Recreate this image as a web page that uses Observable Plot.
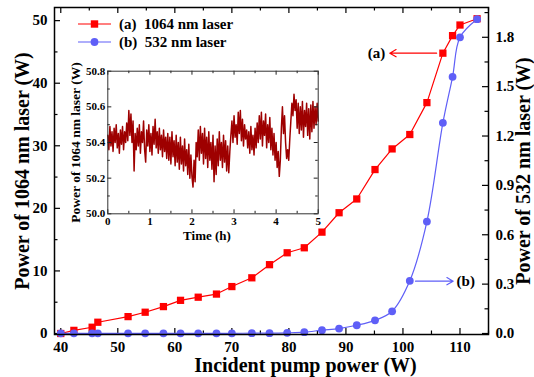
<!DOCTYPE html>
<html><head><meta charset="utf-8">
<script src="https://cdn.jsdelivr.net/npm/d3@7"></script>
<script src="https://cdn.jsdelivr.net/npm/@observablehq/plot@0.6"></script>
<style>
body{margin:0;background:#fff;}
#wrap{position:relative;width:534px;height:377px;overflow:hidden;font-family:"Liberation Serif","Times New Roman",serif;font-weight:bold;color:#000;}
#wrap svg{display:block;}
#inset{position:absolute;left:60px;top:60px;}
#legend{position:absolute;left:76px;top:15px;font-size:15px;}
#legend .row{display:flex;align-items:center;height:18px;white-space:pre;}
#legend svg{margin-right:5px;}
</style></head><body><div id="wrap"><div id="main"></div><div id="inset"></div><div id="legend"></div></div>
<script>
// ---- main chart data ----
const pumpPower = [40, 42.3, 45.5, 46.5, 51.8, 54.8, 58.0, 61.0, 64.1, 67.3, 70.0, 73.5, 76.6, 79.7, 82.7, 85.8, 88.8, 91.9, 95.1, 98.1, 101.2, 104.2, 107.0, 108.7, 110.0, 113.0];
const power1064 = [0, 0.5, 1.0, 1.8, 2.7, 3.4, 4.3, 5.3, 5.8, 6.3, 7.5, 8.9, 11.0, 12.9, 13.7, 16.2, 19.3, 21.5, 26.2, 29.5, 31.8, 36.9, 44.8, 47.6, 49.3, 50.3];
const power532 = [0.001, 0.001, 0.001, 0.001, 0.001, 0.001, 0.001, 0.001, 0.001, 0.001, 0.001, 0.002, 0.002, 0.004, 0.008, 0.02, 0.03, 0.05, 0.08, 0.135, 0.32, 0.68, 1.28, 1.56, 1.80, 1.91];
const seriesNames = ["(a)  1064 nm laser", "(b)  532 nm laser"];
const xTicks = [40, 50, 60, 70, 80, 90, 100, 110];
const xMinor = [45, 55, 65, 75, 85, 95, 105, 115];
const leftTicks = [0, 10, 20, 30, 40, 50];
const leftMinor = [5, 15, 25, 35, 45];
const rightTicks = [0, 0.3, 0.6, 0.9, 1.2, 1.5, 1.8];
const rightMinor = [0.15, 0.45, 0.75, 1.05, 1.35, 1.65, 1.95];
// annotations (data units)
const annotA = {label: "(a)", x1: 105.9, x2: 97.7, y: 44.8, tx: 96.9};
const annotB = {label: "(b)", x1: 102.2, x2: 108.8, y: 0.318, tx: 109.4};

// ---- inset data: 1064 nm output power over 5 h ----
const insetHours = 5;
const insetPower = [
50.44,50.36,50.49,50.38,50.46,50.35,50.48,50.40,50.50,50.37,50.45,50.34,50.47,50.39,50.49,50.36,50.46,50.40,50.51,
50.41,50.58,50.44,50.56,50.40,50.52,
50.24,50.45,
50.36,50.48,50.38,50.50,50.34,50.46,50.40,50.52,50.36,50.29,50.47,50.38,50.50,50.35,50.45,50.33,50.49,50.39,50.53,50.37,50.46,50.34,50.48,50.36,50.44,50.32,50.47,50.35,50.43,
50.31,50.45,50.30,50.43,50.28,50.46,50.32,50.41,50.27,50.44,50.29,50.40,50.25,50.43,50.28,50.38,50.24,50.42,50.27,50.36,50.22,50.39,50.20,50.33,50.21,
50.15,50.30,50.18,50.40,
50.32,50.47,50.30,50.49,50.34,50.45,50.28,50.48,50.31,50.43,50.26,50.46,50.30,50.40,50.25,50.44,50.18,50.38,50.22,50.42,50.27,50.46,50.30,50.40,50.26,50.44,50.29,50.41,50.24,50.38,50.23,50.35,
50.44,50.52,50.40,50.55,50.43,50.50,50.39,50.57,50.45,50.58,50.41,50.53,50.38,50.50,50.42,50.47,50.37,
50.46,50.34,50.49,50.36,50.44,50.33,50.48,50.37,50.51,
50.40,50.55,50.42,50.57,50.38,50.52,50.44,50.56,50.37,50.50,50.40,50.54,50.36,50.48,50.33,50.45,
50.30,50.40,50.26,50.35,50.21,50.30,
50.48,50.60,50.45,50.55,50.40,
50.31,50.36,50.30,50.42,
50.52,50.62,50.55,50.67,50.58,
50.64,50.48,50.62,50.45,50.60,50.47,50.63,50.43,50.58,50.49,50.62,50.44,50.59,50.42,50.61,50.46,50.63,50.48,50.60,50.50,50.62,50.52
];
const insetXTicks = [0, 1, 2, 3, 4, 5];
const insetXMinor = [0.5, 1.5, 2.5, 3.5, 4.5];
const insetYTicks = [50.0, 50.2, 50.4, 50.6, 50.8];
const insetYMinor = [50.1, 50.3, 50.5, 50.7];

const RED = "#ff0000", BLUE = "#5f5ff7", DARKRED = "#9e0000";
const FONT = '"Liberation Serif","Times New Roman",serif';

// ---- main plot ----
const k = 26.3; // left-axis units per right-axis unit
const W = 534, H = 377, mL = 54, mR = 46, mT = 7, mB = 43;
const pw = W - mL - mR, ph = H - mT - mB;
const rows = pumpPower.map((x, i) => ({x, a: power1064[i], b: power532[i] * k}));

function frameTicks(pwid, phgt, xs, ys, len, sw, col) {
  return [
    Plot.tickX(xs, {x: d => d, insetTop: phgt - len, stroke: col, strokeWidth: sw}),
    Plot.tickX(xs, {x: d => d, insetBottom: phgt - len, stroke: col, strokeWidth: sw}),
    Plot.tickY(ys, {y: d => d, insetRight: pwid - len, stroke: col, strokeWidth: sw}),
  ];
}

const main = Plot.plot({
  width: W, height: H, marginLeft: mL, marginRight: mR, marginTop: mT, marginBottom: mB,
  style: {fontFamily: FONT, fontWeight: "bold", fontSize: "15px", background: "transparent", color: "black"},
  x: {domain: [38.9, 115]},
  y: {domain: [-0.16, 52.1]},
  marks: [
    ...frameTicks(pw, ph, xTicks, leftTicks, 6, 1.2, "black"),
    ...frameTicks(pw, ph, xMinor, leftMinor, 3.5, 1.2, "black"),
    Plot.tickY(rightTicks.map(t => t * k), {y: d => d, insetLeft: pw - 6, stroke: "black", strokeWidth: 1.2}),
    Plot.tickY(rightMinor.map(t => t * k), {y: d => d, insetLeft: pw - 3.5, stroke: "black", strokeWidth: 1.2}),
    Plot.axisY({anchor: "left", ticks: leftTicks, tickSize: 0, tickPadding: 7, tickFormat: d => String(d), label: null}),
    Plot.axisY({anchor: "right", ticks: rightTicks.map(t => t * k), tickSize: 0, tickPadding: 7, tickFormat: d => (d / k).toFixed(1), label: null}),
    Plot.axisX({anchor: "bottom", ticks: xTicks, tickSize: 0, tickPadding: 7, tickFormat: d => String(d), label: null}),
    Plot.line(rows, {x: "x", y: "a", stroke: RED, strokeWidth: 1.2}),
    Plot.dot(rows, {x: "x", y: "a", symbol: "square", fill: RED, r: 4.1}),
    Plot.line(rows, {x: "x", y: "b", stroke: BLUE, strokeWidth: 1.2, curve: "catmull-rom"}),
    Plot.dot(rows, {x: "x", y: "b", fill: BLUE, r: 3.9}),
    Plot.arrow([annotA], {x1: "x1", x2: "x2", y1: "y", y2: "y", stroke: RED, strokeWidth: 1.2, headLength: 9}),
    Plot.text([annotA], {x: "tx", y: "y", text: "label", textAnchor: "end", fontSize: 15, fill: "black"}),
    Plot.arrow([annotB], {x1: "x1", x2: "x2", y1: d => d.y * k, y2: d => d.y * k, stroke: BLUE, strokeWidth: 1.2, headLength: 9}),
    Plot.text([annotB], {x: "tx", y: d => d.y * k, text: "label", textAnchor: "start", fontSize: 15, fill: "black"}),
    Plot.text(["Power of 1064 nm laser (W)"], {text: d => d, frameAnchor: "left", textAnchor: "middle", lineAnchor: "middle", dx: -32, rotate: -90, fontSize: 20, fill: "black"}),
    Plot.text(["Power of 532 nm laser (W)"], {text: d => d, frameAnchor: "right", textAnchor: "middle", lineAnchor: "middle", dx: 35, rotate: -90, fontSize: 20, fill: "black"}),
    Plot.text(["Incident pump power (W)"], {text: d => d, frameAnchor: "bottom", textAnchor: "middle", lineAnchor: "middle", dx: 34, dy: 31, fontSize: 20, fill: "black"}),
    Plot.frame({stroke: "black", strokeWidth: 1.5}),
  ]
});
document.getElementById("main").appendChild(main);

// ---- inset plot ----
const iW = 263, iH = 185, iL = 47.3, iR = 5.3, iT = 10.7, iB = 31.7;
const ipw = iW - iL - iR, iph = iH - iT - iB;
const insetRows = insetPower.map((p, i) => ({t: i * insetHours / (insetPower.length - 1), p}));
const inset = Plot.plot({
  width: iW, height: iH, marginLeft: iL, marginRight: iR, marginTop: iT, marginBottom: iB,
  style: {fontFamily: FONT, fontWeight: "bold", fontSize: "11px", background: "transparent", color: "black"},
  x: {domain: [0, 5]},
  y: {domain: [50.0, 50.8]},
  marks: [
    Plot.frame({fill: "white"}),
    Plot.line(insetRows, {x: "t", y: "p", stroke: DARKRED, strokeWidth: 1.5}),
    ...frameTicks(ipw, iph, insetXTicks, insetYTicks, 4, 1, "#222"),
    ...frameTicks(ipw, iph, insetXMinor, insetYMinor, 2.5, 1, "#222"),
    Plot.tickY(insetYTicks, {y: d => d, insetLeft: ipw - 4, stroke: "#222", strokeWidth: 1}),
    Plot.tickY(insetYMinor, {y: d => d, insetLeft: ipw - 2.5, stroke: "#222", strokeWidth: 1}),
    Plot.axisY({anchor: "left", ticks: insetYTicks, tickSize: 0, tickPadding: 2.5, tickFormat: d => d.toFixed(1), label: null}),
    Plot.axisX({anchor: "bottom", ticks: insetXTicks, tickSize: 0, tickPadding: 3, tickFormat: d => String(d), label: null}),
    Plot.text(["Power of 1064 nm laser (W)"], {text: d => d, frameAnchor: "left", textAnchor: "middle", lineAnchor: "middle", dx: -32, rotate: -90, fontSize: 13.5, fill: "black"}),
    Plot.text(["Time (h)"], {text: d => d, frameAnchor: "bottom", textAnchor: "middle", lineAnchor: "middle", dx: -6, dy: 22, fontSize: 13, fill: "black"}),
    Plot.frame({stroke: "#333", strokeWidth: 1}),
  ]
});
document.getElementById("inset").appendChild(inset);

// ---- legend ----
const legend = document.getElementById("legend");
[[RED, "square", seriesNames[0]], [BLUE, "circle", seriesNames[1]]].forEach(([col, sym, name]) => {
  const row = document.createElement("div");
  row.className = "row";
  const marker = sym === "square"
    ? `<rect x="14.8" y="3.3" width="7.4" height="7.4" fill="${col}"/>`
    : `<circle cx="18.5" cy="7" r="3.9" fill="${col}"/>`;
  row.innerHTML = `<svg width="38" height="14"><line x1="2" x2="35" y1="7" y2="7" stroke="${col}" stroke-width="1.2"/>${marker}</svg><span>${name}</span>`;
  legend.appendChild(row);
});
</script>
</body></html>
